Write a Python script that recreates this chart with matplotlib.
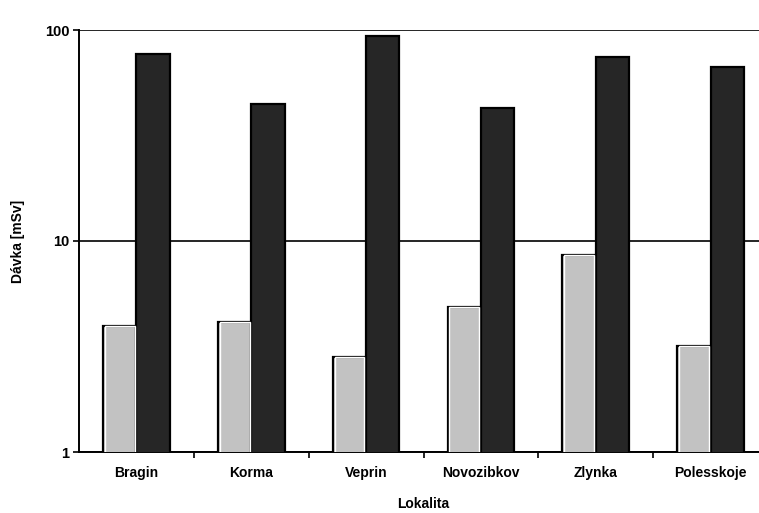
import matplotlib
matplotlib.use("Agg")
import matplotlib.pyplot as plt
import numpy as np

# lokality a davky [mSv]
lokality = ["Bragin", "Korma", "Veprin", "Novozibkov", "Zlynka", "Polesskoje"]
davka_1 = [3.95, 4.13, 2.82, 4.87, 8.58, 3.18]
davka_2 = [76.9, 44.6, 93.7, 42.7, 74.5, 66.8]

plt.rcParams['font.family'] = ['Liberation Sans', 'DejaVu Sans']

fig = plt.figure(figsize=(7.59, 5.13), dpi=100)
ax = fig.add_axes([79/759, 61/513, 689/759, 422/513])

x = np.arange(len(lokality))
w = 0.29
ax.bar(x + 0.5 - w/2, davka_1, width=w, bottom=0, color="#c2c2c2",
       edgecolor="black", linewidth=1.6, zorder=3)
ax.bar(x + 0.5 - w/2, davka_1, width=w - 0.03, color="none",
       edgecolor="white", linewidth=1.0, zorder=4)
ax.bar(x + 0.5 + w/2, davka_2, width=w, color="#262626",
       edgecolor="black", linewidth=1.6, zorder=3)

ax.set_yscale("log")
ax.set_ylim(1, 100)
ax.set_xlim(0, len(lokality))
ax.set_yticks([1, 10, 100])
ax.set_yticklabels(["1", "10", "100"], fontsize=10.5, fontweight="bold")
ax.yaxis.set_minor_locator(matplotlib.ticker.NullLocator())
ax.grid(axis="y", which="major", color="black", linewidth=1.2, zorder=1)

ax.set_xticks(x + 0.5)
ax.set_xticklabels(lokality, fontsize=10, fontweight="bold")
ax.tick_params(axis="x", which="major", length=0, pad=10)
ax.set_xticks(np.arange(1, len(lokality)), minor=True)
ax.tick_params(axis="x", which="minor", length=4, width=1.2, direction="out")
ax.tick_params(axis="y", length=4, width=1.2, pad=3)

for s in ["top", "right"]:
    ax.spines[s].set_visible(False)
for s in ["left", "bottom"]:
    ax.spines[s].set_linewidth(1.4)

ax.set_ylabel("Dávka [mSv]", fontsize=10, fontweight="bold", labelpad=14)
ax.set_xlabel("Lokalita", fontsize=10, fontweight="bold", labelpad=12)

fig.savefig("out.png", dpi=100)
